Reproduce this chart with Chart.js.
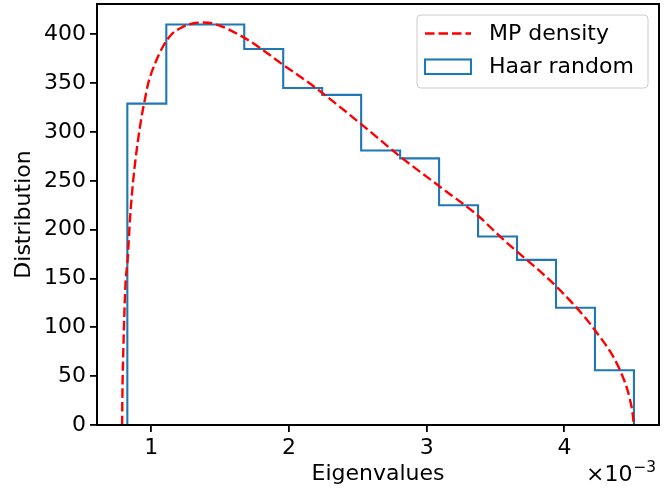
<!DOCTYPE html>
<html><head><meta charset="utf-8">
<script src="https://cdn.jsdelivr.net/npm/chart.js@4.4.1/dist/chart.umd.min.js"></script>
<style>html,body{margin:0;padding:0;background:#fff}</style>
</head><body>
<canvas id="c" width="668" height="489" style="width:668px;height:489px;display:block"></canvas>
<script>
// ---- data (eigenvalues in units of 1e-3) ----
const seriesNames = ['MP density', 'Haar random'];
const binEdges = [0.826, 1.109, 1.392, 1.675, 1.958, 2.241, 2.524, 2.807, 3.090, 3.373, 3.656, 3.939, 4.222, 4.505];
const binCounts = [329, 410, 410, 385, 345, 338, 281, 273, 225, 193, 169, 120, 56];
const mpX = [0.788, 0.791, 0.797, 0.804, 0.811, 0.829, 0.845, 0.869, 0.901, 0.930, 0.949, 0.978, 1.027, 1.087, 1.148, 1.221, 1.30, 1.37, 1.45, 1.644, 1.79, 1.935, 2.176, 2.516, 2.806, 3.096, 3.375, 3.532, 3.968, 4.222, 4.404, 4.476, 4.50, 4.503];
const mpY = [0, 40, 77, 112, 140, 171, 210, 251, 289, 316, 330, 350, 370, 388, 400, 407, 411, 412, 411, 399, 386, 371, 347, 309, 275, 244, 214, 193, 138, 97, 56, 26, 6, 0];
const xTickValues = [1, 2, 3, 4];
const yTickValues = [0, 50, 100, 150, 200, 250, 300, 350, 400];
const xTitle = 'Eigenvalues';
const yTitle = 'Distribution';
const offsetBase = '\u00d710';
const offsetExp = '\u22123';

const FONT = 'DejaVu Sans';
const histPts = [];
histPts.push({x: binEdges[0], y: 0});
for (let i = 0; i < binCounts.length; i++) {
  histPts.push({x: binEdges[i], y: binCounts[i]});
  histPts.push({x: binEdges[i + 1], y: binCounts[i]});
}
histPts.push({x: binEdges[binEdges.length - 1], y: 0});
const mpPts = mpX.map((x, i) => ({x: x, y: mpY[i]}));

const framePlugin = {
  id: 'frame',
  afterDatasetsDraw(chart) {
    const {ctx, chartArea: a} = chart;
    ctx.save();
    ctx.strokeStyle = '#000';
    ctx.lineWidth = 2;
    ctx.strokeRect(a.left, a.top, a.right - a.left, a.bottom - a.top);
    ctx.restore();
  }
};

const legendPlugin = {
  id: 'mplLegend',
  afterDraw(chart) {
    const {ctx, chartArea: a} = chart;
    const ds = chart.data.datasets;
    const x0 = a.right - 242, y0 = a.top + 11, w = 231, h = 73;
    ctx.save();
    ctx.beginPath();
    const r = 4;
    ctx.moveTo(x0 + r, y0);
    ctx.arcTo(x0 + w, y0, x0 + w, y0 + h, r);
    ctx.arcTo(x0 + w, y0 + h, x0, y0 + h, r);
    ctx.arcTo(x0, y0 + h, x0, y0, r);
    ctx.arcTo(x0, y0, x0 + w, y0, r);
    ctx.closePath();
    ctx.fillStyle = 'rgba(255,255,255,0.8)';
    ctx.fill();
    ctx.strokeStyle = '#cccccc';
    ctx.lineWidth = 1;
    ctx.stroke();
    // entry 1: dashed line
    const sx = x0 + 8, sw = 46;
    ctx.beginPath();
    ctx.setLineDash(ds[0].borderDash);
    ctx.strokeStyle = ds[0].borderColor;
    ctx.lineWidth = ds[0].borderWidth;
    ctx.moveTo(sx, y0 + 18.5);
    ctx.lineTo(sx + sw, y0 + 18.5);
    ctx.stroke();
    ctx.setLineDash([]);
    // entry 2: rectangle
    ctx.strokeStyle = ds[1].borderColor;
    ctx.lineWidth = ds[1].borderWidth;
    ctx.strokeRect(sx, y0 + 44.5, sw, 14.5);
    ctx.fillStyle = '#000';
    ctx.font = '22px "' + FONT + '"';
    ctx.textBaseline = 'middle';
    ctx.textAlign = 'left';
    ctx.fillText(ds[0].label, x0 + 72, y0 + 19);
    ctx.fillText(ds[1].label, x0 + 72, y0 + 52);
    ctx.restore();
  }
};

const offsetPlugin = {
  id: 'offsetText',
  afterDraw(chart) {
    const {ctx, chartArea: a} = chart;
    ctx.save();
    ctx.fillStyle = '#000';
    ctx.textBaseline = 'alphabetic';
    ctx.textAlign = 'left';
    ctx.font = '22px "' + FONT + '"';
    const bx = a.right - 73;
    ctx.fillText(offsetBase, bx, a.bottom + 56);
    const w = ctx.measureText(offsetBase).width;
    ctx.font = '15.4px "' + FONT + '"';
    ctx.fillText(offsetExp, bx + w + 1, a.bottom + 47);
    ctx.restore();
  }
};

new Chart(document.getElementById('c'), {
  type: 'scatter',
  data: {
    datasets: [
      {
        label: seriesNames[0], data: mpPts, showLine: true, pointRadius: 0,
        borderColor: '#ff0000', borderWidth: 2.4, borderDash: [9.5, 4],
        cubicInterpolationMode: 'monotone', fill: false, order: 0
      },
      {
        label: seriesNames[1], data: histPts, showLine: true, pointRadius: 0,
        borderColor: '#1f77b4', borderWidth: 2.1, tension: 0, fill: false, order: 1
      }
    ]
  },
  options: {
    responsive: false, animation: false, devicePixelRatio: 1,
    layout: {padding: {left: 0, right: 9, top: 4, bottom: 0}},
    plugins: {legend: {display: false}, tooltip: {enabled: false}},
    scales: {
      x: {
        type: 'linear', min: 0.6057, max: 4.687,
        afterBuildTicks: s => { s.ticks = xTickValues.map(v => ({value: v})); },
        afterFit: s => { s.height = 64; s.paddingLeft = 0; s.paddingRight = 0; },
        ticks: {font: {family: FONT, size: 22}, color: '#000', padding: 3, maxRotation: 0, autoSkip: false, callback: v => String(v)},
        grid: {drawOnChartArea: false, tickLength: 7, tickWidth: 1.8, lineWidth: 1.8, color: '#000'},
        border: {display: false},
        title: {display: true, text: xTitle, font: {family: FONT, size: 22}, color: '#000', padding: {top: 0, bottom: 2}}
      },
      y: {
        type: 'linear', min: 0, max: 431,
        afterBuildTicks: s => { s.ticks = yTickValues.map(v => ({value: v})); },
        afterFit: s => { s.width = 97; s.paddingTop = 0; s.paddingBottom = 0; },
        ticks: {font: {family: FONT, size: 22}, color: '#000', padding: 4, autoSkip: false, callback: v => String(v)},
        grid: {drawOnChartArea: false, tickLength: 7, tickWidth: 1.8, lineWidth: 1.8, color: '#000'},
        border: {display: false},
        title: {display: true, text: yTitle, font: {family: FONT, size: 22}, color: '#000', padding: {top: 11, bottom: 0}}
      }
    }
  },
  plugins: [framePlugin, legendPlugin, offsetPlugin]
});
</script>
</body></html>
